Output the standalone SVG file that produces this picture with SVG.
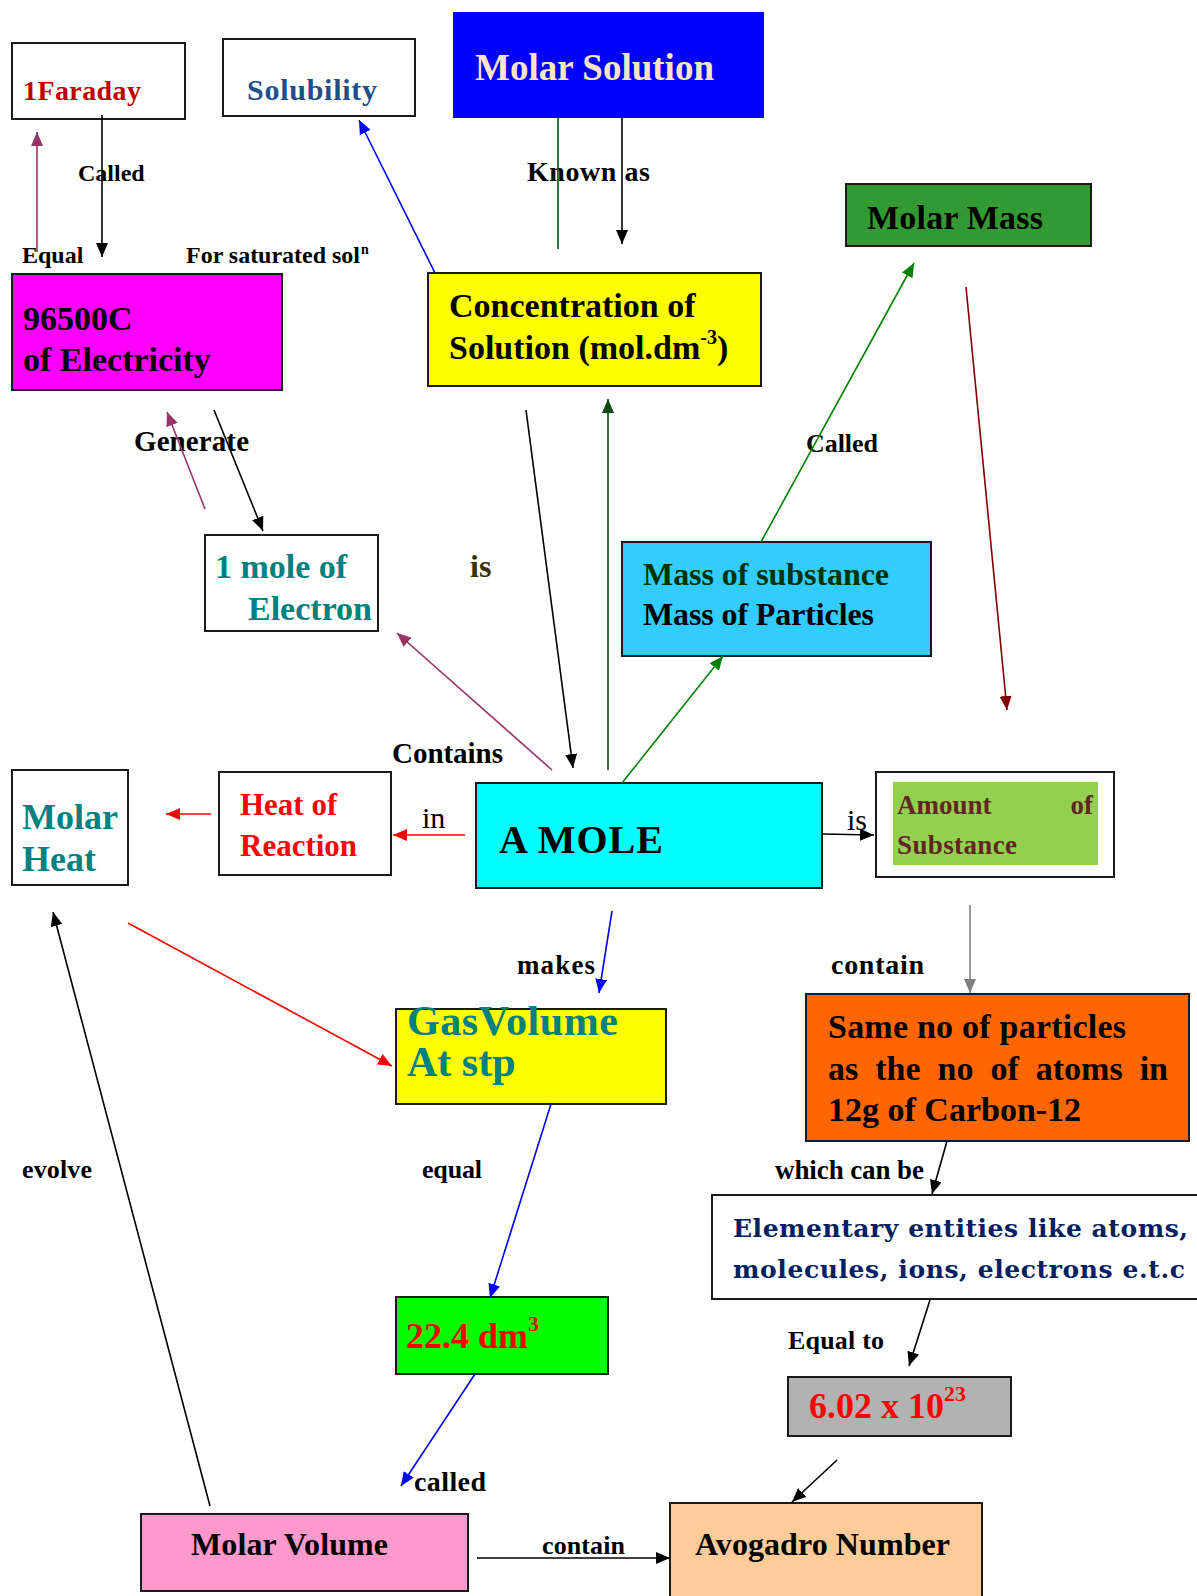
<svg xmlns="http://www.w3.org/2000/svg" width="1197" height="1596" viewBox="0 0 1197 1596">
<style>
  text { font-family: "Liberation Serif", "Times New Roman", serif; font-weight: bold; }
  .box { stroke: #1a1a1a; stroke-width: 2; }
  .lbl { fill: #000; }
  .reg { font-weight: normal; }
  .ent { font-family: "DejaVu Serif", serif; font-weight: bold; fill: #002060; font-size: 25px; }
  .c { fill: none; stroke-width: 1.6; }
  .k { stroke: #000; }
  .pu { stroke: #993366; }
  .bl { stroke: #0000FF; }
  .gr { stroke: #008000; }
  .dg { stroke: #0A4A0A; }
  .dr { stroke: #800000; }
  .rd { stroke: #FF0000; }
  .gy { stroke: #808080; }
</style>
<defs>
  <marker id="m-k" viewBox="0 0 14 12" refX="14" refY="6" markerWidth="14" markerHeight="12" markerUnits="userSpaceOnUse" orient="auto"><path d="M0,0L14,6L0,12z" fill="#000"/></marker>
  <marker id="m-pu" viewBox="0 0 14 12" refX="14" refY="6" markerWidth="14" markerHeight="12" markerUnits="userSpaceOnUse" orient="auto"><path d="M0,0L14,6L0,12z" fill="#993366"/></marker>
  <marker id="m-bl" viewBox="0 0 14 12" refX="14" refY="6" markerWidth="14" markerHeight="12" markerUnits="userSpaceOnUse" orient="auto"><path d="M0,0L14,6L0,12z" fill="#0000FF"/></marker>
  <marker id="m-gr" viewBox="0 0 14 12" refX="14" refY="6" markerWidth="14" markerHeight="12" markerUnits="userSpaceOnUse" orient="auto"><path d="M0,0L14,6L0,12z" fill="#008000"/></marker>
  <marker id="m-dg" viewBox="0 0 14 12" refX="14" refY="6" markerWidth="14" markerHeight="12" markerUnits="userSpaceOnUse" orient="auto"><path d="M0,0L14,6L0,12z" fill="#0A4A0A"/></marker>
  <marker id="m-dr" viewBox="0 0 14 12" refX="14" refY="6" markerWidth="14" markerHeight="12" markerUnits="userSpaceOnUse" orient="auto"><path d="M0,0L14,6L0,12z" fill="#800000"/></marker>
  <marker id="m-rd" viewBox="0 0 14 12" refX="14" refY="6" markerWidth="14" markerHeight="12" markerUnits="userSpaceOnUse" orient="auto"><path d="M0,0L14,6L0,12z" fill="#FF0000"/></marker>
  <marker id="m-gy" viewBox="0 0 14 12" refX="14" refY="6" markerWidth="14" markerHeight="12" markerUnits="userSpaceOnUse" orient="auto"><path d="M0,0L14,6L0,12z" fill="#808080"/></marker>
</defs>
<rect width="1197" height="1596" fill="#fff"/>

<g id="nodes">
  <g id="n-faraday">
    <rect class="box" x="12" y="43" width="173" height="76" fill="#fff"/>
    <text x="23" y="100" font-size="28" fill="#C00000" textLength="118">1Faraday</text>
  </g>
  <g id="n-solubility">
    <rect class="box" x="223" y="39" width="192" height="77" fill="#fff"/>
    <text x="247" y="100" font-size="30" fill="#1F4E8C" textLength="130">Solubility</text>
  </g>
  <g id="n-molar-solution">
    <rect x="453" y="12" width="311" height="106" fill="#0000FF"/>
    <text x="475" y="80" font-size="37" fill="#FFE4C8" textLength="239">Molar Solution</text>
  </g>
  <g id="n-molar-mass">
    <rect class="box" x="846" y="184" width="245" height="62" fill="#339933"/>
    <text x="867" y="229" font-size="34" fill="#000" textLength="176">Molar Mass</text>
  </g>
  <g id="n-96500">
    <rect class="box" x="12" y="274" width="270" height="116" fill="#FF00FF"/>
    <text x="23" y="330" font-size="34" fill="#000">96500C</text>
    <text x="23" y="371" font-size="34" fill="#000">of Electricity</text>
  </g>
  <g id="n-concentration">
    <rect class="box" x="428" y="273" width="333" height="113" fill="#FFFF00"/>
    <text x="449" y="317" font-size="34" fill="#000">Concentration of</text>
    <text x="449" y="359" font-size="34" fill="#000">Solution (mol.dm<tspan font-size="20" dy="-15">-3</tspan><tspan dy="15">)</tspan></text>
  </g>
  <g id="n-electron">
    <rect class="box" x="205" y="535" width="173" height="96" fill="#fff"/>
    <text x="215" y="578" font-size="34" fill="#008080">1 mole of</text>
    <text x="248" y="620" font-size="34" fill="#008080">Electron</text>
  </g>
  <g id="n-mass">
    <rect class="box" x="622" y="542" width="309" height="114" fill="#33CCFF"/>
    <text x="643" y="585" font-size="32" fill="#003300" textLength="246">Mass of substance</text>
    <text x="643" y="625" font-size="32" fill="#000" textLength="231">Mass of Particles</text>
  </g>
  <g id="n-molar-heat">
    <rect class="box" x="12" y="770" width="116" height="115" fill="#fff"/>
    <text x="22" y="829" font-size="36" fill="#008080">Molar</text>
    <text x="22" y="871" font-size="36" fill="#008080">Heat</text>
  </g>
  <g id="n-heat-reaction">
    <rect class="box" x="219" y="772" width="172" height="103" fill="#fff"/>
    <text x="240" y="815" font-size="31" fill="#FF0000">Heat of</text>
    <text x="240" y="856" font-size="31" fill="#FF0000">Reaction</text>
  </g>
  <g id="n-mole">
    <rect class="box" x="476" y="783" width="346" height="105" fill="#00FFFF"/>
    <text x="499" y="853" font-size="40" fill="#000" textLength="164">A MOLE</text>
  </g>
  <g id="n-amount">
    <rect class="box" x="876" y="772" width="238" height="105" fill="#fff"/>
    <rect x="893" y="782" width="205" height="83" fill="#92D050"/>
    <text x="897" y="814" font-size="27" fill="#632523">Amount</text>
    <text x="1093" y="814" font-size="27" fill="#632523" text-anchor="end">of</text>
    <text x="897" y="854" font-size="27" fill="#632523" textLength="120">Substance</text>
  </g>
  <g id="n-gas-volume">
    <rect class="box" x="396" y="1009" width="270" height="95" fill="#FFFF00"/>
    <text x="407" y="1035" font-size="42" fill="#008080" textLength="211">GasVolume</text>
    <text x="407" y="1076" font-size="42" fill="#008080">At stp</text>
  </g>
  <g id="n-same-no">
    <rect class="box" x="806" y="994" width="383" height="147" fill="#FF6600"/>
    <text x="828" y="1038" font-size="34" fill="#000" textLength="298">Same no of particles</text>
    <text x="828" y="1080" font-size="34" fill="#000" word-spacing="8.5">as the no of atoms in</text>
    <text x="828" y="1121" font-size="34" fill="#000">12g of Carbon-12</text>
  </g>
  <g id="n-elementary">
    <rect class="box" x="712" y="1195" width="490" height="104" fill="#fff"/>
    <text class="ent" x="733" y="1237" textLength="455">Elementary entities like atoms,</text>
    <text class="ent" x="733" y="1278" textLength="452">molecules, ions, electrons e.t.c</text>
  </g>
  <g id="n-22-4">
    <rect class="box" x="396" y="1297" width="212" height="77" fill="#00FF00"/>
    <text x="406" y="1348" font-size="36" fill="#FF0000">22.4 dm<tspan font-size="22" dy="-17">3</tspan></text>
  </g>
  <g id="n-avogadro-value">
    <rect class="box" x="788" y="1377" width="223" height="59" fill="#B2B2B2"/>
    <text x="809" y="1418" font-size="36" fill="#FF0000">6.02 x 10<tspan font-size="22" dy="-17">23</tspan></text>
  </g>
  <g id="n-molar-volume">
    <rect class="box" x="141" y="1514" width="327" height="77" fill="#FF99CC"/>
    <text x="191" y="1555" font-size="32" fill="#000" textLength="197">Molar Volume</text>
  </g>
  <g id="n-avogadro">
    <rect class="box" x="670" y="1503" width="312" height="100" fill="#FFCC99"/>
    <text x="695" y="1555" font-size="32" fill="#000" textLength="255">Avogadro Number</text>
  </g>
</g>

<g id="labels">
  <text class="lbl" x="78" y="181" font-size="24">Called</text>
  <text class="lbl" x="22" y="263" font-size="24">Equal</text>
  <text class="lbl" x="186" y="263" font-size="24" textLength="174">For saturated sol</text>
  <text class="lbl" x="361" y="254" font-size="14">n</text>
  <text class="lbl" x="527" y="181" font-size="28" textLength="123">Known as</text>
  <text class="lbl" x="134" y="451" font-size="29" textLength="115">Generate</text>
  <text x="470" y="577" font-size="32" fill="#333300">is</text>
  <text class="lbl" x="806" y="452" font-size="26" textLength="72">Called</text>
  <text class="lbl" x="392" y="763" font-size="29" textLength="111">Contains</text>
  <text class="lbl reg" x="422" y="828" font-size="30">in</text>
  <text class="lbl reg" x="847" y="830" font-size="30">is</text>
  <text class="lbl" x="517" y="974" font-size="27" textLength="78">makes</text>
  <text class="lbl" x="831" y="974" font-size="28" textLength="93">contain</text>
  <text class="lbl" x="22" y="1178" font-size="26" textLength="70">evolve</text>
  <text class="lbl" x="422" y="1178" font-size="26" textLength="60">equal</text>
  <text class="lbl" x="775" y="1179" font-size="27" textLength="149">which can be</text>
  <text class="lbl" x="788" y="1349" font-size="26" textLength="96">Equal to</text>
  <text class="lbl" x="414" y="1491" font-size="28" textLength="72">called</text>
  <text class="lbl" x="542" y="1554" font-size="26" textLength="83">contain</text>
</g>

<g id="connectors">
  <line class="c pu" x1="37" y1="252" x2="37" y2="132" marker-end="url(#m-pu)"/>
  <line class="c k" x1="102" y1="115" x2="102" y2="257" marker-end="url(#m-k)"/>
  <line class="c bl" x1="435" y1="273" x2="359" y2="120" marker-end="url(#m-bl)"/>
  <line class="c dg" x1="558" y1="117" x2="558" y2="249"/>
  <line class="c k" x1="622" y1="117" x2="622" y2="244" marker-end="url(#m-k)"/>
  <line class="c gr" x1="761" y1="542" x2="914" y2="263" marker-end="url(#m-gr)"/>
  <line class="c dr" x1="966" y1="287" x2="1007" y2="710" marker-end="url(#m-dr)"/>
  <line class="c pu" x1="205" y1="509" x2="167" y2="412" marker-end="url(#m-pu)"/>
  <line class="c k" x1="214" y1="410" x2="263" y2="531" marker-end="url(#m-k)"/>
  <line class="c k" x1="526" y1="410" x2="573" y2="768" marker-end="url(#m-k)"/>
  <line class="c dg" x1="608" y1="770" x2="608" y2="399" marker-end="url(#m-dg)"/>
  <line class="c pu" x1="552" y1="770" x2="397" y2="633" marker-end="url(#m-pu)"/>
  <line class="c gr" x1="622" y1="783" x2="723" y2="656" marker-end="url(#m-gr)"/>
  <line class="c rd" x1="465" y1="835" x2="393" y2="835" marker-end="url(#m-rd)"/>
  <line class="c rd" x1="211" y1="814" x2="166" y2="814" marker-end="url(#m-rd)"/>
  <line class="c k" x1="822" y1="834" x2="874" y2="835" stroke-width="2" marker-end="url(#m-k)"/>
  <line class="c bl" x1="612" y1="911" x2="599" y2="993" marker-end="url(#m-bl)"/>
  <line class="c gy" x1="970" y1="905" x2="970" y2="993" marker-end="url(#m-gy)"/>
  <line class="c rd" x1="128" y1="923" x2="392" y2="1066" marker-end="url(#m-rd)"/>
  <line class="c k" x1="210" y1="1506" x2="53" y2="912" marker-end="url(#m-k)"/>
  <line class="c bl" x1="551" y1="1104" x2="490" y2="1298" marker-end="url(#m-bl)"/>
  <line class="c bl" x1="475" y1="1374" x2="401" y2="1486" marker-end="url(#m-bl)"/>
  <line class="c k" x1="947" y1="1141" x2="932" y2="1194" marker-end="url(#m-k)"/>
  <line class="c k" x1="930" y1="1300" x2="909" y2="1366" marker-end="url(#m-k)"/>
  <line class="c k" x1="837" y1="1460" x2="792" y2="1502" marker-end="url(#m-k)"/>
  <line class="c k" x1="477" y1="1558" x2="670" y2="1558" stroke-width="2" marker-end="url(#m-k)"/>
</g>
</svg>
